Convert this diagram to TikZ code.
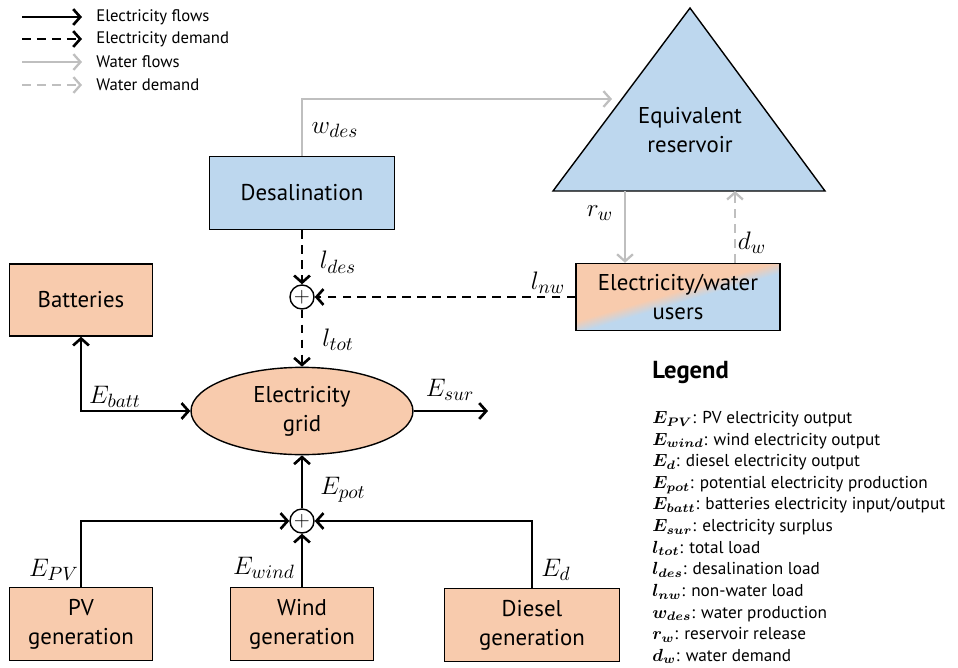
\documentclass[tikz,border=0pt]{standalone}
\usepackage{amsmath,amssymb}
\usepackage{fontspec}
\setmainfont{PT Sans}
\usetikzlibrary{arrows.meta,shapes.geometric}
\definecolor{elecorange}{RGB}{248,203,173}
\definecolor{waterblue}{RGB}{189,215,238}
\definecolor{watergray}{RGB}{191,191,191}
\pgfdeclareverticalshading{usershade}{100bp}{color(0bp)=(waterblue); color(47bp)=(waterblue); color(53bp)=(elecorange); color(100bp)=(elecorange)}

\begin{document}
\begin{tikzpicture}[x=0.02cm,y=-0.02cm,
  >={Straight Barb[length=4pt,width=9pt]},
  boxtext/.style={font=\fontsize{13}{16.5}\selectfont, align=center},
  elecbox/.style={boxtext, draw, line width=0.8pt, fill=elecorange},
  waterbox/.style={boxtext, draw, line width=0.8pt, fill=waterblue},
  mixbox/.style={boxtext, draw, line width=0.8pt, shade, shading=usershade, shading angle=16.4},
  sumnode/.style={circle, draw, line width=0.8pt, fill=white, inner sep=0pt, minimum size=0.48cm, font=\fontsize{12}{12}\selectfont},
  elec/.style={line width=1.5pt, ->},
  elecdem/.style={elec, dash pattern=on 5pt off 3.5pt},
  water/.style={line width=1.3pt, watergray, ->},
  waterdem/.style={water, dash pattern=on 5pt off 3.5pt},
  lbl/.style={font=\fontsize{15}{17}\selectfont, inner sep=0pt},
  keytext/.style={font=\fontsize{9.5}{11}\selectfont, anchor=west, inner sep=0pt},
]
  \useasboundingbox (0,0) rectangle (958,667);

  % Key of line styles
  \coordinate (key1) at (22,17);  \coordinate (keyend1) at (82,17);
  \coordinate (key2) at (22,39);  \coordinate (keyend2) at (82,39);
  \coordinate (key3) at (22,62);  \coordinate (keyend3) at (82,62);
  \coordinate (key4) at (22,85);  \coordinate (keyend4) at (82,85);
  \draw[elec] (key1) -- (keyend1);
  \draw[elecdem] (key2) -- (keyend2);
  \draw[water] (key3) -- (keyend3);
  \draw[waterdem] (key4) -- (keyend4);
  \node[keytext] (keyflow) at (96,17) {Electricity flows};
  \node[keytext] (keydemand) at (96,39) {Electricity demand};
  \node[keytext] (keywater) at (96,62) {Water flows};
  \node[keytext] (keywdemand) at (96,85) {Water demand};

  % Water side
  \fill[waterblue] (553,191) -- (690,8) -- (825,191) -- cycle;
  \draw[line width=0.8pt] (553,191) -- (690,8) -- (825,191) -- cycle;
  \node[boxtext] (reservoir) at (690,130) {Equivalent\\reservoir};
  \coordinate (resin) at (612,99);
  \coordinate (resout) at (625,191);
  \coordinate (resdemand) at (735,191);

  \node[waterbox, minimum width=3.7cm, minimum height=1.46cm] (desal) at (302,193) {Desalination};
  \node[mixbox, minimum width=4.08cm, minimum height=1.34cm] (users) at (678,297) {Electricity/water\\users};
  \node[sumnode] (sumload) at (302,297) {$+$};

  % Electricity side
  \node[elecbox, minimum width=2.86cm, minimum height=1.44cm] (batt) at (81,300) {Batteries};
  \node[ellipse, draw, line width=0.8pt, fill=elecorange, boxtext, minimum width=4.44cm, minimum height=1.48cm] (grid) at (302,411) {Electricity\\grid};
  \coordinate (surplus) at (488,411);
  \node[sumnode] (sumgen) at (302,521) {$+$};
  \node[elecbox, minimum width=2.86cm, minimum height=1.46cm] (pv) at (81,624) {PV\\generation};
  \node[elecbox, minimum width=2.86cm, minimum height=1.46cm] (wind) at (302,624) {Wind\\generation};
  \node[elecbox, minimum width=3.5cm, minimum height=1.46cm] (diesel) at (532,625) {Diesel\\generation};

  % Connectors
  \draw[water] (desal.north) |- (resin);
  \draw[water] (resout) -- (resout |- users.north);
  \draw[waterdem] (resdemand |- users.north) -- (resdemand);
  \draw[elecdem] (desal) -- (sumload);
  \draw[elecdem] (users) -- (sumload);
  \draw[elecdem] (sumload) -- (grid);
  \draw[elec, <->] (batt) |- (grid);
  \draw[elec] (grid) -- (surplus);
  \draw[elec] (sumgen) -- (grid);
  \draw[elec] (pv) |- (sumgen);
  \draw[elec] (wind) -- (sumgen);
  \draw[elec] (diesel) |- (sumgen);

  % Labels
  \node[lbl] (wdes) at (335,130) {$w_{des}$};
  \node[lbl] (rw) at (600,213) {$r_w$};
  \node[lbl] (dw) at (752,243) {$d_w$};
  \node[lbl] (lnw) at (548,283) {$l_{nw}$};
  \node[lbl] (ldes) at (338,262) {$l_{des}$};
  \node[lbl] (ltot) at (338,340) {$l_{tot}$};
  \node[lbl] (ebatt) at (115,397) {$E_{batt}$};
  \node[lbl] (esur) at (450,390) {$E_{sur}$};
  \node[lbl] (epot) at (343,490) {$E_{pot}$};
  \node[lbl] (epv) at (54,570) {$E_{PV}$};
  \node[lbl] (ewind) at (264,568) {$E_{wind}$};
  \node[lbl] (ed) at (556,570) {$E_d$};

  % Legend
  \node[anchor=west, inner sep=0pt, font=\fontsize{14}{16}\bfseries] (legendtitle) at (652,372) {Legend};
  \node[anchor=north west, inner sep=0pt, align=left, font=\fontsize{9.8}{12.3}\selectfont] (legendlist) at (652,411) {%
    $\boldsymbol{E_{PV}}$: PV electricity output\\
    $\boldsymbol{E_{wind}}$: wind electricity output\\
    $\boldsymbol{E_{d}}$: diesel electricity output\\
    $\boldsymbol{E_{pot}}$: potential electricity production\\
    $\boldsymbol{E_{batt}}$: batteries electricity input/output\\
    $\boldsymbol{E_{sur}}$: electricity surplus\\
    $\boldsymbol{l_{tot}}$: total load\\
    $\boldsymbol{l_{des}}$: desalination load\\
    $\boldsymbol{l_{nw}}$: non-water load\\
    $\boldsymbol{w_{des}}$: water production\\
    $\boldsymbol{r_{w}}$: reservoir release\\
    $\boldsymbol{d_{w}}$: water demand};
\end{tikzpicture}
\end{document}
